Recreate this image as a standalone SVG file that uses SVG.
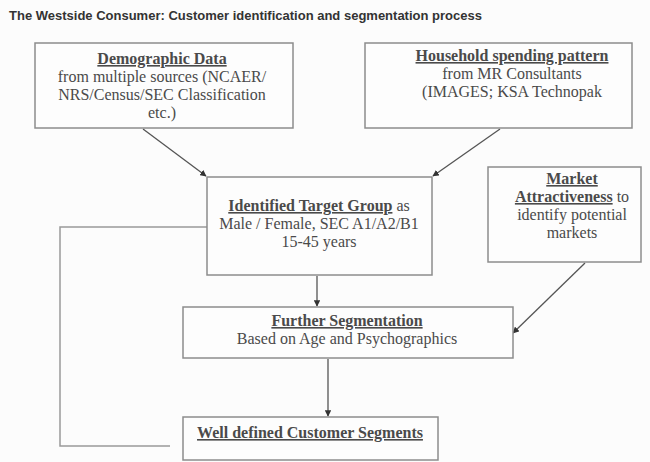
<svg xmlns="http://www.w3.org/2000/svg" width="650" height="462" viewBox="0 0 650 462">
<defs>
<style>
.box{fill:#fdfdfd;stroke:#8c8c8c;stroke-width:1.5}
.t{font-family:"Liberation Serif","Times New Roman",serif;font-size:16px;fill:#4a4a4a;text-anchor:middle}
.h{font-weight:bold;text-decoration:underline}
.title{font-family:"Liberation Sans",Arial,sans-serif;font-size:13px;font-weight:bold;fill:#333}
.c{fill:none;stroke:#555;stroke-width:1.3}
.l{fill:none;stroke:#999;stroke-width:1.5}
</style>
<marker id="ah" viewBox="0 0 10 10" refX="9" refY="5" markerWidth="5" markerHeight="5" orient="auto">
<path d="M0,0L10,5L0,10z" fill="#333"/>
</marker>
</defs>
<rect width="650" height="462" fill="#fcfcfc"/>
<text class="title" x="9" y="20">The Westside Consumer: Customer identification and segmentation process</text>
<g id="connectors">
<line class="c" x1="143" y1="129" x2="206" y2="176" marker-end="url(#ah)"/>
<line class="c" x1="500" y1="129" x2="433" y2="176" marker-end="url(#ah)"/>
<line class="c" x1="317" y1="276" x2="317" y2="306" marker-end="url(#ah)"/>
<line class="c" x1="585" y1="263" x2="513" y2="333" marker-end="url(#ah)"/>
<line class="c" x1="328" y1="359" x2="328" y2="416" marker-end="url(#ah)"/>
<polyline class="l" points="207,227 60,227 60,446 170,446"/>
</g>
<g id="demographic">
<rect class="box" x="35" y="43" width="258" height="85"/>
<text class="t" x="162" y="64"><tspan class="h">Demographic Data</tspan></text>
<text class="t" x="162" y="82">from multiple sources (NCAER/</text>
<text class="t" x="162" y="100">NRS/Census/SEC Classification</text>
<text class="t" x="162" y="118">etc.)</text>
</g>
<g id="household">
<rect class="box" x="365" y="43" width="267" height="85"/>
<text class="t" x="512" y="61"><tspan class="h">Household spending pattern</tspan></text>
<text class="t" x="512" y="79">from MR Consultants</text>
<text class="t" x="512" y="97">(IMAGES; KSA Technopak</text>
</g>
<g id="target">
<rect class="box" x="207" y="177" width="225" height="98"/>
<text class="t" x="319" y="211"><tspan class="h">Identified Target Group</tspan> as</text>
<text class="t" x="319" y="229">Male / Female, SEC A1/A2/B1</text>
<text class="t" x="319" y="247">15-45 years</text>
</g>
<g id="market">
<rect class="box" x="488" y="167" width="153" height="95"/>
<text class="t" x="572" y="184"><tspan class="h">Market</tspan></text>
<text class="t" x="572" y="202"><tspan class="h">Attractiveness</tspan> to</text>
<text class="t" x="572" y="220">identify potential</text>
<text class="t" x="572" y="238">markets</text>
</g>
<g id="further">
<rect class="box" x="183" y="307" width="330" height="51"/>
<text class="t" x="347" y="326"><tspan class="h">Further Segmentation</tspan></text>
<text class="t" x="347" y="344">Based on Age and Psychographics</text>
</g>
<g id="welldefined">
<rect class="box" x="183" y="417" width="255" height="43"/>
<text class="t" x="310" y="438"><tspan class="h">Well defined Customer Segments</tspan></text>
</g>
</svg>
